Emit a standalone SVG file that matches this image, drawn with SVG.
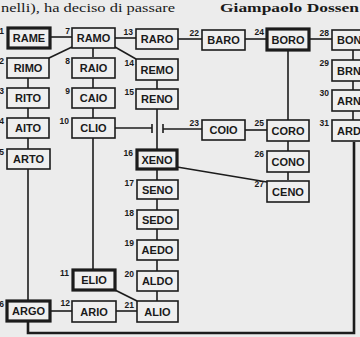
<svg xmlns="http://www.w3.org/2000/svg" width="360" height="337" viewBox="0 0 360 337">
<style>
.bg{fill:#ececec}
.b{fill:#efefef;stroke:#1c1c1c;stroke-width:1.6}
.k{stroke-width:3.2}
.w{font-family:"Liberation Sans",Arial,sans-serif;font-weight:bold;font-size:11px;text-anchor:middle;fill:#1a1a1a}
.n{font-family:"Liberation Sans",Arial,sans-serif;font-weight:bold;font-size:8.5px;text-anchor:end;fill:#1a1a1a}
.c line,.c polyline{stroke:#1c1c1c;stroke-width:1.6;fill:none}
.c .h{stroke-width:2.6}
.hd{font-family:"Liberation Serif","Times New Roman",serif;font-size:13px;fill:#1a1a1a}
</style>
<rect class="bg" x="0" y="0" width="360" height="337"/>
<text class="hd" x="1" y="12" textLength="174" lengthAdjust="spacingAndGlyphs">nelli), ha deciso di passare</text>
<text class="hd" x="220" y="12" font-weight="bold" textLength="139" lengthAdjust="spacingAndGlyphs">Giampaolo Dossen</text>
<g class="c" id="connectors">
<line x1="50" y1="37" x2="72" y2="37"/>
<line x1="115" y1="38" x2="136" y2="38"/>
<line x1="72" y1="47" x2="49" y2="58"/>
<line x1="93" y1="48" x2="93" y2="57"/>
<line x1="115" y1="47" x2="136" y2="59"/>
<line x1="178" y1="39" x2="202" y2="39"/>
<line x1="245" y1="39" x2="267" y2="39"/>
<line x1="310" y1="39" x2="332" y2="39"/>
<line x1="353" y1="50" x2="353" y2="120"/>
<line x1="28" y1="78" x2="28" y2="301"/>
<line x1="93" y1="78" x2="93" y2="270"/>
<line x1="157" y1="80" x2="157" y2="301"/>
<line x1="115" y1="128" x2="152" y2="128"/>
<line x1="152" y1="124" x2="152" y2="133"/>
<line x1="163" y1="124" x2="163" y2="133"/>
<line x1="163" y1="129" x2="202" y2="129"/>
<line x1="245" y1="130" x2="267" y2="130"/>
<line x1="288" y1="51" x2="288" y2="120"/>
<line x1="288" y1="141" x2="288" y2="180"/>
<line x1="177" y1="167" x2="267" y2="182"/>
<line x1="115" y1="290" x2="137" y2="301"/>
<line x1="50" y1="311" x2="72" y2="311"/>
<line x1="116" y1="311" x2="137" y2="311"/>
<polyline class="h" points="28,322 28,333 354,333 354,142"/>
</g>
<g id="n1"><rect class="b k" x="8" y="28" width="42" height="20"/><text class="w" x="29" y="42">RAME</text><text class="n" x="4" y="34">1</text></g>
<g id="n7"><rect class="b" x="72" y="28" width="43" height="20"/><text class="w" x="93.5" y="42">RAMO</text><text class="n" x="70" y="34">7</text></g>
<g id="n13"><rect class="b" x="136" y="29" width="42" height="20"/><text class="w" x="157" y="43">RARO</text><text class="n" x="133" y="35">13</text></g>
<g id="n22"><rect class="b" x="202" y="30" width="43" height="20"/><text class="w" x="223.5" y="44">BARO</text><text class="n" x="199" y="36">22</text></g>
<g id="n24"><rect class="b k" x="267" y="29" width="42" height="21"/><text class="w" x="288" y="44">BORO</text><text class="n" x="264" y="35">24</text></g>
<g id="n28"><rect class="b" x="332" y="30" width="40" height="20"/><text class="w" x="337" y="44" style="text-anchor:start">BON</text><text class="n" x="329" y="36">28</text></g>
<g id="n2"><rect class="b" x="7" y="58" width="42" height="20"/><text class="w" x="28" y="72">RIMO</text><text class="n" x="4" y="64">2</text></g>
<g id="n8"><rect class="b" x="72" y="58" width="43" height="20"/><text class="w" x="93.5" y="72">RAIO</text><text class="n" x="70" y="64">8</text></g>
<g id="n14"><rect class="b" x="136" y="59" width="42" height="21"/><text class="w" x="157" y="74">REMO</text><text class="n" x="134" y="66">14</text></g>
<g id="n29"><rect class="b" x="332" y="60" width="40" height="21"/><text class="w" x="337" y="75" style="text-anchor:start">BRN</text><text class="n" x="329" y="66">29</text></g>
<g id="n3"><rect class="b" x="7" y="88" width="42" height="20"/><text class="w" x="28" y="102">RITO</text><text class="n" x="4" y="94">3</text></g>
<g id="n9"><rect class="b" x="72" y="88" width="43" height="20"/><text class="w" x="93.5" y="102">CAIO</text><text class="n" x="70" y="94">9</text></g>
<g id="n15"><rect class="b" x="136" y="89" width="42" height="20"/><text class="w" x="157" y="103">RENO</text><text class="n" x="134" y="95">15</text></g>
<g id="n30"><rect class="b" x="332" y="90" width="40" height="21"/><text class="w" x="337" y="105" style="text-anchor:start">ARN</text><text class="n" x="329" y="96">30</text></g>
<g id="n4"><rect class="b" x="7" y="118" width="42" height="20"/><text class="w" x="28" y="132">AITO</text><text class="n" x="4" y="124">4</text></g>
<g id="n10"><rect class="b" x="72" y="118" width="43" height="20"/><text class="w" x="93.5" y="132">CLIO</text><text class="n" x="69" y="124">10</text></g>
<g id="n23"><rect class="b" x="202" y="120" width="43" height="20"/><text class="w" x="223.5" y="134">COIO</text><text class="n" x="199" y="126">23</text></g>
<g id="n25"><rect class="b" x="267" y="120" width="42" height="21"/><text class="w" x="288" y="135">CORO</text><text class="n" x="264" y="126">25</text></g>
<g id="n31"><rect class="b" x="332" y="120" width="40" height="21"/><text class="w" x="337" y="135" style="text-anchor:start">ARD</text><text class="n" x="329" y="126">31</text></g>
<g id="n5"><rect class="b" x="7" y="149" width="43" height="20"/><text class="w" x="28.5" y="163">ARTO</text><text class="n" x="4" y="155">5</text></g>
<g id="n16"><rect class="b k" x="137" y="150" width="40" height="19"/><text class="w" x="157" y="164">XENO</text><text class="n" x="133" y="156">16</text></g>
<g id="n26"><rect class="b" x="267" y="151" width="42" height="21"/><text class="w" x="288" y="166">CONO</text><text class="n" x="264" y="157">26</text></g>
<g id="n17"><rect class="b" x="137" y="180" width="41" height="19"/><text class="w" x="157.5" y="194">SENO</text><text class="n" x="134" y="186">17</text></g>
<g id="n27"><rect class="b" x="267" y="181" width="42" height="21"/><text class="w" x="288" y="196">CENO</text><text class="n" x="264" y="187">27</text></g>
<g id="n18"><rect class="b" x="137" y="210" width="41" height="19"/><text class="w" x="157.5" y="224">SEDO</text><text class="n" x="134" y="216">18</text></g>
<g id="n19"><rect class="b" x="137" y="240" width="41" height="20"/><text class="w" x="157.5" y="254">AEDO</text><text class="n" x="134" y="246">19</text></g>
<g id="n11"><rect class="b k" x="73" y="270" width="42" height="20"/><text class="w" x="94" y="284">ELIO</text><text class="n" x="69" y="276">11</text></g>
<g id="n20"><rect class="b" x="137" y="271" width="41" height="20"/><text class="w" x="157.5" y="285">ALDO</text><text class="n" x="134" y="277">20</text></g>
<g id="n6"><rect class="b k" x="7" y="301" width="43" height="20"/><text class="w" x="28.5" y="315">ARGO</text><text class="n" x="4" y="307">6</text></g>
<g id="n12"><rect class="b" x="72" y="301" width="44" height="21"/><text class="w" x="94" y="316">ARIO</text><text class="n" x="70" y="306">12</text></g>
<g id="n21"><rect class="b" x="137" y="301" width="41" height="21"/><text class="w" x="157.5" y="316">ALIO</text><text class="n" x="134" y="308">21</text></g>
</svg>
